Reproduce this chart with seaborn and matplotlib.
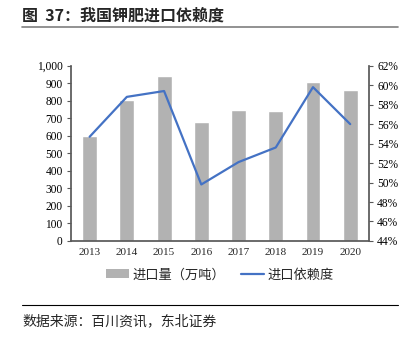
import numpy as np
import pandas as pd
import matplotlib
matplotlib.use("Agg")
import matplotlib.pyplot as plt
import seaborn as sns
from matplotlib.patches import Patch
from matplotlib.lines import Line2D
from matplotlib.ticker import FuncFormatter

years = ["2013", "2014", "2015", "2016", "2017", "2018", "2019", "2020"]
imports = [600, 802, 942, 680, 750, 742, 906, 864]
dependency = [54.7, 58.8, 59.4, 49.8, 52.1, 53.6, 59.8, 56.0]

title = "图  37：我国钾肥进口依赖度"
source = "数据来源：百川资讯，东北证券"
bar_label = "进口量（万吨）"
line_label = "进口依赖度"

sns.set_theme(style="white")
plt.rcParams['font.family'] = ['Liberation Serif', 'Noto Sans CJK SC']
cjk = ['Noto Sans CJK SC', 'DejaVu Sans']

df = pd.DataFrame({"year": years, "imports": imports, "dep": dependency,
                   "pos": np.arange(len(years))})

fig = plt.figure(figsize=(4.08, 3.37), dpi=100)
ax = fig.add_axes([0.174, 0.285, 0.730, 0.520])

bar_color = "#b2b2b2"
line_color = "#4472c4"
spine_color = "#595959"

sns.barplot(data=df, x="pos", y="imports", color=bar_color, width=0.4,
            saturation=1, ax=ax)
ax.set_ylim(0, 1000)
ax.set_yticks(np.arange(0, 1001, 100))
ax.yaxis.set_major_formatter(FuncFormatter(lambda v, p: f"{int(v):,}"))
ax.set_xlim(-0.5, len(years) - 0.5)
ax.set_xticks(df["pos"])
ax.set_xticklabels(years)
ax.set_xlabel("")
ax.set_ylabel("")

ax2 = ax.twinx()
sns.lineplot(data=df, x="pos", y="dep", color=line_color, linewidth=1.6, ax=ax2)
ax2.set_ylim(44, 62)
ax2.set_yticks(np.arange(44, 63, 2))
ax2.yaxis.set_major_formatter(FuncFormatter(lambda v, p: f"{int(v)}%"))
ax2.set_xlim(-0.5, len(years) - 0.5)
ax2.set_xlabel("")
ax2.set_ylabel("")

for a in (ax, ax2):
    for s in a.spines.values():
        s.set_visible(False)
    a.tick_params(axis="y", labelsize=8.3, colors="black", length=3, width=0.8,
                  color=spine_color, pad=3)
    a.grid(False)
ax.spines["left"].set_visible(True)
ax.spines["bottom"].set_visible(True)
ax.spines["left"].set_color(spine_color)
ax.spines["bottom"].set_color(spine_color)
ax2.spines["right"].set_visible(True)
ax2.spines["right"].set_color(spine_color)
ax.tick_params(axis="y", left=True, direction="out")
ax2.tick_params(axis="y", right=True, direction="out")
ax.tick_params(axis="x", labelsize=8, bottom=False, length=0, pad=5)

handles = [Patch(facecolor=bar_color, edgecolor="none"),
           Line2D([0], [0], color=line_color, linewidth=1.6)]
fig.legend(handles, [bar_label, line_label], loc="center",
           bbox_to_anchor=(0.539, 0.184), ncol=2, frameon=False,
           prop={"family": cjk, "size": 9.5}, handlelength=1.7,
           columnspacing=1.2, handletextpad=0.3)

fig.text(0.054, 0.955, title, fontsize=11.5, fontweight="bold",
         family=cjk, va="center", ha="left")
fig.add_artist(Line2D([0.054, 0.975], [0.92, 0.92], color="#7f7f7f",
                      linewidth=1.2, transform=fig.transFigure))
fig.add_artist(Line2D([0.054, 0.975], [0.095, 0.095], color="black",
                      linewidth=0.8, transform=fig.transFigure))
fig.text(0.054, 0.047, source, fontsize=10, family=cjk, va="center", ha="left")

fig.savefig("out.png", dpi=100)
